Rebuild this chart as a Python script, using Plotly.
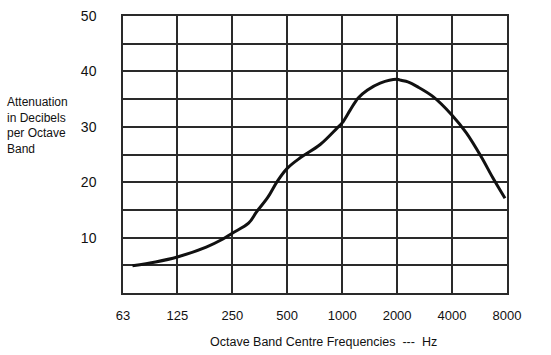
import plotly.graph_objects as go

# Octave band centre frequencies (Hz) and attenuation (dB)
freq_hz = [71, 95, 125, 180, 221, 250, 307, 339, 392, 442, 500, 589, 758, 940, 1000,
           1106, 1224, 1371, 1615, 2000, 2100, 2290, 2594, 3160, 4000, 4790, 5800, 6690, 7800]
atten_db = [4.9, 5.6, 6.5, 8.3, 9.7, 10.8, 12.6, 14.6, 17.3, 20.2, 22.5, 24.4, 26.8, 29.8, 30.7,
            33.0, 35.2, 36.6, 37.9, 38.6, 38.4, 38.1, 37.2, 35.4, 32.1, 28.9, 24.5, 20.8, 17.1]

x_tick_vals = [63, 125, 250, 500, 1000, 2000, 4000, 8000]
x_tick_text = ["63", "125", "250", "500", "1000", "2000", "4000", "8000"]
y_tick_vals = [0, 5, 10, 15, 20, 25, 30, 35, 40, 45, 50]
y_tick_text = ["", "", "10", "", "20", "", "30", "", "40", "", "50"]

FONT = "Liberation Sans, Arial, sans-serif"
GRID = "#2a2a2a"

fig = go.Figure()
fig.add_trace(go.Scatter(
    x=freq_hz, y=atten_db, mode="lines",
    line=dict(color="#111111", width=3, shape="spline", smoothing=1.0),
    hoverinfo="skip", showlegend=False,
))

fig.update_layout(
    width=551, height=355,
    margin=dict(l=123, r=44, t=16, b=62, autoexpand=False),
    paper_bgcolor="white", plot_bgcolor="white",
    font=dict(family=FONT, color="#111111"),
    xaxis=dict(
        type="log", range=[1.7993, 3.9031], automargin=False,
        tickvals=x_tick_vals, ticktext=x_tick_text,
        showgrid=True, gridcolor=GRID, gridwidth=1.5,
        showline=True, linecolor=GRID, linewidth=1.5, mirror=True,
        ticks="", ticklabelstandoff=10, ticklabeloverflow="allow",
        tickfont=dict(size=13, family=FONT), zeroline=False,
    ),
    yaxis=dict(
        range=[0, 50], automargin=False,
        tickvals=y_tick_vals, ticktext=y_tick_text,
        showgrid=True, gridcolor=GRID, gridwidth=1.5,
        showline=True, linecolor=GRID, linewidth=1.5, mirror=True,
        ticks="", ticklabelstandoff=22, ticklabeloverflow="allow",
        tickfont=dict(size=14, family=FONT), zeroline=False,
    ),
    annotations=[
        dict(text="Attenuation<br>in Decibels<br>per Octave<br>Band",
             xref="paper", yref="paper", x=-0.307, y=0.606,
             xanchor="left", yanchor="middle", align="left", showarrow=False,
             font=dict(size=12, family=FONT, color="#111111")),
        dict(text="Octave Band Centre Frequencies  ---  Hz",
             xref="paper", yref="paper", x=0.521, y=-0.177,
             xanchor="center", yanchor="middle", showarrow=False,
             font=dict(size=12.5, family=FONT, color="#111111")),
    ],
)

fig.write_html("out.html", config={"displayModeBar": False},
               post_script="document.body.style.margin='0px';")
